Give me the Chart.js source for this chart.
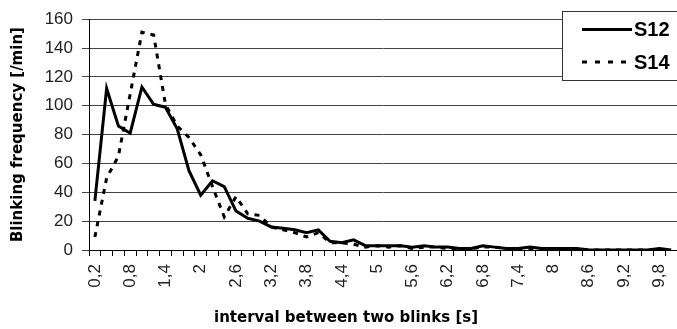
<!DOCTYPE html>
<html>
<head>
<meta charset="utf-8">
<script src="https://cdn.jsdelivr.net/npm/chart.js@4/dist/chart.umd.min.js"></script>
<style>
  html, body { margin: 0; padding: 0; background: #fff; }
  #wrap { width: 677px; height: 329px; position: relative; }
</style>
</head>
<body>
<div id="wrap"><canvas id="blinkChart"></canvas></div>
<script>
// interval between two blinks [s], one category every 0.2 s
const intervals = [
    '0,2', '0,4', '0,6', '0,8', '1', '1,2', '1,4', '1,6', '1,8', '2',
    '2,2', '2,4', '2,6', '2,8', '3', '3,2', '3,4', '3,6', '3,8', '4',
    '4,2', '4,4', '4,6', '4,8', '5', '5,2', '5,4', '5,6', '5,8', '6',
    '6,2', '6,4', '6,6', '6,8', '7', '7,2', '7,4', '7,6', '7,8', '8',
    '8,2', '8,4', '8,6', '8,8', '9', '9,2', '9,4', '9,6', '9,8', '10'
];

// blinking frequency [/min]
const s12 = [
    34, 112, 86, 81, 113, 101, 99, 84, 55, 38,
    48, 44, 27, 22, 20, 16, 15, 14, 12, 14,
    6, 5, 7, 3, 3, 3, 3, 2, 3, 2,
    2, 1, 1, 3, 2, 1, 1, 2, 1, 1,
    1, 1, 0, 0, 0, 0, 0, 0, 1, 0
];
const s14 = [
    9, 50, 65, 108, 151, 149, 101, 86, 78, 66,
    44, 23, 37, 25, 24, 16, 14, 12, 9, 12,
    5, 5, 4, 2, 3, 2, 3, 1, 2, 2,
    1, 1, 1, 2, 2, 1, 1, 1, 1, 1,
    0, 1, 0, 0, 0, 0, 0, 0, 0, 0
];

const yTicks = [0, 20, 40, 60, 80, 100, 120, 140, 160];
const labelEvery = 3;

const xTitle = 'interval between two blinks [s]';
const yTitle = 'Blinking frequency [/min]';

const tickFont = { family: '"Liberation Sans", Arial, sans-serif', size: 17 };
const titleFont = { family: '"DejaVu Sans", Verdana, sans-serif', size: 15, weight: 'bold' };

// x axis title sits left of the plot centre in the original
const xTitlePlugin = {
    id: 'xTitlePlugin',
    afterDraw(chart) {
        const { ctx } = chart;
        ctx.save();
        ctx.font = 'bold 15px "DejaVu Sans", Verdana, sans-serif';
        ctx.fillStyle = '#000';
        ctx.textAlign = 'center';
        ctx.textBaseline = 'middle';
        ctx.fillText(xTitle, 346, 318);
        ctx.restore();
    }
};

// boxed legend in the top right corner, partly cut off by the edge
const legendPlugin = {
    id: 'legendPlugin',
    afterDraw(chart) {
        const { ctx } = chart;
        ctx.save();
        ctx.fillStyle = '#fff';
        ctx.strokeStyle = '#333';
        ctx.lineWidth = 1;
        ctx.fillRect(562.5, 11.5, 130, 69);
        ctx.strokeRect(562.5, 11.5, 130, 69);
        const rows = [{ name: 'S12', dash: [], y: 29.5 }, { name: 'S14', dash: [5, 8], y: 62 }];
        rows.forEach(r => {
            ctx.beginPath();
            ctx.setLineDash(r.dash);
            ctx.lineWidth = 3;
            ctx.strokeStyle = '#000';
            ctx.moveTo(582, r.y);
            ctx.lineTo(632, r.y);
            ctx.stroke();
            ctx.setLineDash([]);
            ctx.font = 'bold 20px "Liberation Sans", Arial, sans-serif';
            ctx.fillStyle = '#000';
            ctx.textAlign = 'left';
            ctx.textBaseline = 'middle';
            ctx.fillText(r.name, 634, r.y + 1);
        });
        ctx.restore();
    }
};

const chart = new Chart(document.getElementById('blinkChart'), {
    type: 'line',
    data: {
        labels: intervals,
        datasets: [
            {
                label: 'S12',
                data: s12,
                borderColor: '#000',
                borderWidth: 3,
                pointRadius: 0,
                tension: 0,
                fill: false
            },
            {
                label: 'S14',
                data: s14,
                borderColor: '#000',
                borderWidth: 3,
                borderDash: [5, 6],
                pointRadius: 0,
                tension: 0,
                fill: false
            }
        ]
    },
    options: {
        responsive: true,
        maintainAspectRatio: false,
        animation: false,
        layout: { padding: { top: 17, right: 0, left: 0, bottom: 0 } },
        plugins: {
            legend: { display: false },
            tooltip: { enabled: false }
        },
        scales: {
            x: {
                offset: true,
                grid: {
                    display: true,
                    offset: true,
                    drawOnChartArea: false,
                    drawTicks: true,
                    tickLength: 6,
                    color: '#000'
                },
                border: { display: true, color: '#000', width: 1 },
                ticks: {
                    autoSkip: false,
                    minRotation: 90,
                    maxRotation: 90,
                    padding: 8,
                    color: '#222',
                    font: tickFont,
                    callback: function (val, i) {
                        return i % labelEvery === 0 ? this.getLabelForValue(val) : '';
                    }
                },
                afterFit(scale) {
                    scale.height = 79;
                    scale.paddingLeft = 0;
                    scale.paddingRight = 0;
                }
            },
            y: {
                min: yTicks[0],
                max: yTicks[yTicks.length - 1],
                afterBuildTicks(scale) { scale.ticks = yTicks.map(v => ({ value: v })); },
                grid: {
                    color: '#444',
                    lineWidth: 1,
                    drawTicks: true,
                    tickLength: 7
                },
                border: { display: true, color: '#000', width: 1 },
                ticks: {
                    padding: 9,
                    color: '#222',
                    font: tickFont
                },
                title: {
                    display: true,
                    text: yTitle,
                    color: '#000',
                    font: titleFont,
                    padding: { top: 9, bottom: 0 }
                },
                afterFit(scale) { scale.width = 89; }
            }
        }
    },
    plugins: [xTitlePlugin, legendPlugin]
});
</script>
</body>
</html>
